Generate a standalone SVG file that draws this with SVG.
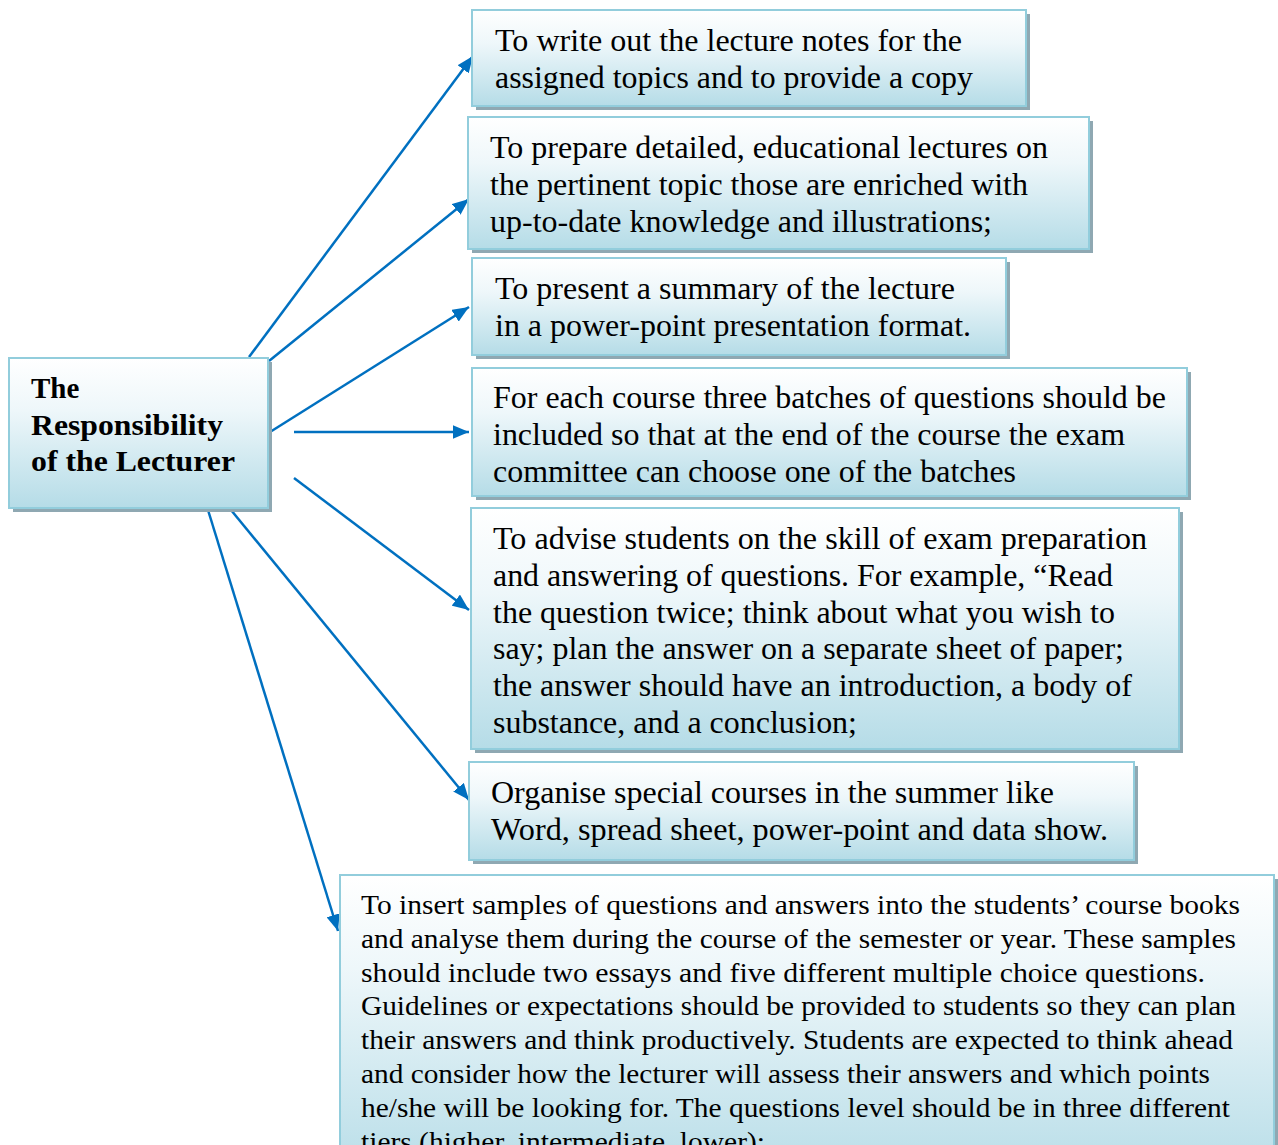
<svg xmlns="http://www.w3.org/2000/svg" width="1278" height="1145" viewBox="0 0 1278 1145">
<defs>
<linearGradient id="g" x1="0" y1="0" x2="0" y2="1">
<stop offset="0" stop-color="#ffffff"/>
<stop offset="0.35" stop-color="#eef7fa"/>
<stop offset="1" stop-color="#b5dce7"/>
</linearGradient>
<linearGradient id="g7" x1="0" y1="875" x2="0" y2="1185" gradientUnits="userSpaceOnUse">
<stop offset="0" stop-color="#ffffff"/>
<stop offset="0.3" stop-color="#eef7fa"/>
<stop offset="1" stop-color="#b5dce7"/>
</linearGradient>
<marker id="ah" viewBox="0 0 12 10" refX="12" refY="5" markerWidth="6.6" markerHeight="5.5" markerUnits="strokeWidth" orient="auto">
<path d="M0,0 L12,5 L0,10 z" fill="#0070c0"/>
</marker>
<style>
.sh{fill:#8fa8b2}
.bx{fill:url(#g);stroke:#92cddc;stroke-width:2}
text{font-family:'Liberation Serif',serif;fill:#000}
.t{font-size:31px}
.t7{font-size:27px}
.tb{font-size:29px;font-weight:bold}
.c{stroke:#0070c0;stroke-width:2.5;fill:none;marker-end:url(#ah)}
</style>
</defs>
<rect width="1278" height="1145" fill="#ffffff"/>
<g id="connectors">
<line class="c" x1="249" y1="357" x2="473" y2="56"/>
<line class="c" x1="269" y1="361" x2="469" y2="199"/>
<line class="c" x1="270" y1="432" x2="469" y2="307"/>
<line class="c" x1="294" y1="432" x2="469" y2="432"/>
<line class="c" x1="294" y1="478" x2="469" y2="610"/>
<line class="c" x1="231" y1="510" x2="469" y2="800"/>
<line class="c" x1="208" y1="510" x2="338" y2="931"/>
</g>
<g id="main">
<rect class="sh" x="13" y="362" width="259" height="150"/>
<rect class="bx" x="9" y="358" width="259" height="150"/>
<text class="tb" x="31" y="398">The</text>
<text class="tb" x="31" y="435" textLength="192" lengthAdjust="spacingAndGlyphs">Responsibility</text>
<text class="tb" x="31" y="471" textLength="204" lengthAdjust="spacingAndGlyphs">of the Lecturer</text>
</g>
<g id="n1">
<rect class="sh" x="476" y="14" width="554" height="96"/>
<rect class="bx" x="472" y="10" width="554" height="96"/>
<text class="t" x="495" y="51" textLength="467" lengthAdjust="spacingAndGlyphs">To write out the lecture notes for the</text>
<text class="t" x="495" y="88" textLength="478" lengthAdjust="spacingAndGlyphs">assigned topics and to provide a copy</text>
</g>
<g id="n2">
<rect class="sh" x="472" y="121" width="621" height="132"/>
<rect class="bx" x="468" y="117" width="621" height="132"/>
<text class="t" x="490" y="158" textLength="558" lengthAdjust="spacingAndGlyphs">To prepare detailed, educational lectures on</text>
<text class="t" x="490" y="195" textLength="538" lengthAdjust="spacingAndGlyphs">the pertinent topic those are enriched with</text>
<text class="t" x="490" y="232" textLength="502" lengthAdjust="spacingAndGlyphs">up-to-date knowledge and illustrations;</text>
</g>
<g id="n3">
<rect class="sh" x="476" y="262" width="534" height="97"/>
<rect class="bx" x="472" y="258" width="534" height="97"/>
<text class="t" x="495" y="299" textLength="460" lengthAdjust="spacingAndGlyphs">To present a summary of the lecture</text>
<text class="t" x="495" y="336" textLength="476" lengthAdjust="spacingAndGlyphs">in a power-point presentation format.</text>
</g>
<g id="n4">
<rect class="sh" x="476" y="372" width="715" height="128"/>
<rect class="bx" x="472" y="368" width="715" height="128"/>
<text class="t" x="493" y="408" textLength="673" lengthAdjust="spacingAndGlyphs">For each course three batches of questions should be</text>
<text class="t" x="493" y="445" textLength="632" lengthAdjust="spacingAndGlyphs">included so that at the end of the course the exam</text>
<text class="t" x="493" y="482" textLength="523" lengthAdjust="spacingAndGlyphs">committee can choose one of the batches</text>
</g>
<g id="n5">
<rect class="sh" x="475" y="512" width="708" height="241"/>
<rect class="bx" x="471" y="508" width="708" height="241"/>
<text class="t" x="493" y="549" textLength="654" lengthAdjust="spacingAndGlyphs">To advise students on the skill of exam preparation</text>
<text class="t" x="493" y="586" textLength="620" lengthAdjust="spacingAndGlyphs">and answering of questions. For example, “Read</text>
<text class="t" x="493" y="623" textLength="622" lengthAdjust="spacingAndGlyphs">the question twice; think about what you wish to</text>
<text class="t" x="493" y="659" textLength="631" lengthAdjust="spacingAndGlyphs">say; plan the answer on a separate sheet of paper;</text>
<text class="t" x="493" y="696" textLength="639" lengthAdjust="spacingAndGlyphs">the answer should have an introduction, a body of</text>
<text class="t" x="493" y="733" textLength="364" lengthAdjust="spacingAndGlyphs">substance, and a conclusion;</text>
</g>
<g id="n6">
<rect class="sh" x="473" y="766" width="665" height="98"/>
<rect class="bx" x="469" y="762" width="665" height="98"/>
<text class="t" x="491" y="803" textLength="563" lengthAdjust="spacingAndGlyphs">Organise special courses in the summer like</text>
<text class="t" x="491" y="840" textLength="617" lengthAdjust="spacingAndGlyphs">Word, spread sheet, power-point and data show.</text>
</g>
<g id="n7">
<rect class="sh" x="344" y="879" width="934" height="300"/>
<rect x="340" y="875" width="934" height="300" fill="url(#g7)" stroke="#92cddc" stroke-width="2"/>
<text class="t7" x="361" y="914" textLength="879" lengthAdjust="spacingAndGlyphs">To insert samples of questions and answers into the students’ course books</text>
<text class="t7" x="361" y="948" textLength="875" lengthAdjust="spacingAndGlyphs">and analyse them during the course of the semester or year. These samples</text>
<text class="t7" x="361" y="982" textLength="844" lengthAdjust="spacingAndGlyphs">should include two essays and five different multiple choice questions.</text>
<text class="t7" x="361" y="1015" textLength="875" lengthAdjust="spacingAndGlyphs">Guidelines or expectations should be provided to students so they can plan</text>
<text class="t7" x="361" y="1049" textLength="872" lengthAdjust="spacingAndGlyphs">their answers and think productively. Students are expected to think ahead</text>
<text class="t7" x="361" y="1083" textLength="849" lengthAdjust="spacingAndGlyphs">and consider how the lecturer will assess their answers and which points</text>
<text class="t7" x="361" y="1117" textLength="869" lengthAdjust="spacingAndGlyphs">he/she will be looking for. The questions level should be in three different</text>
<text class="t7" x="361" y="1151" textLength="404" lengthAdjust="spacingAndGlyphs">tiers (higher, intermediate, lower);</text>
</g>
</svg>
